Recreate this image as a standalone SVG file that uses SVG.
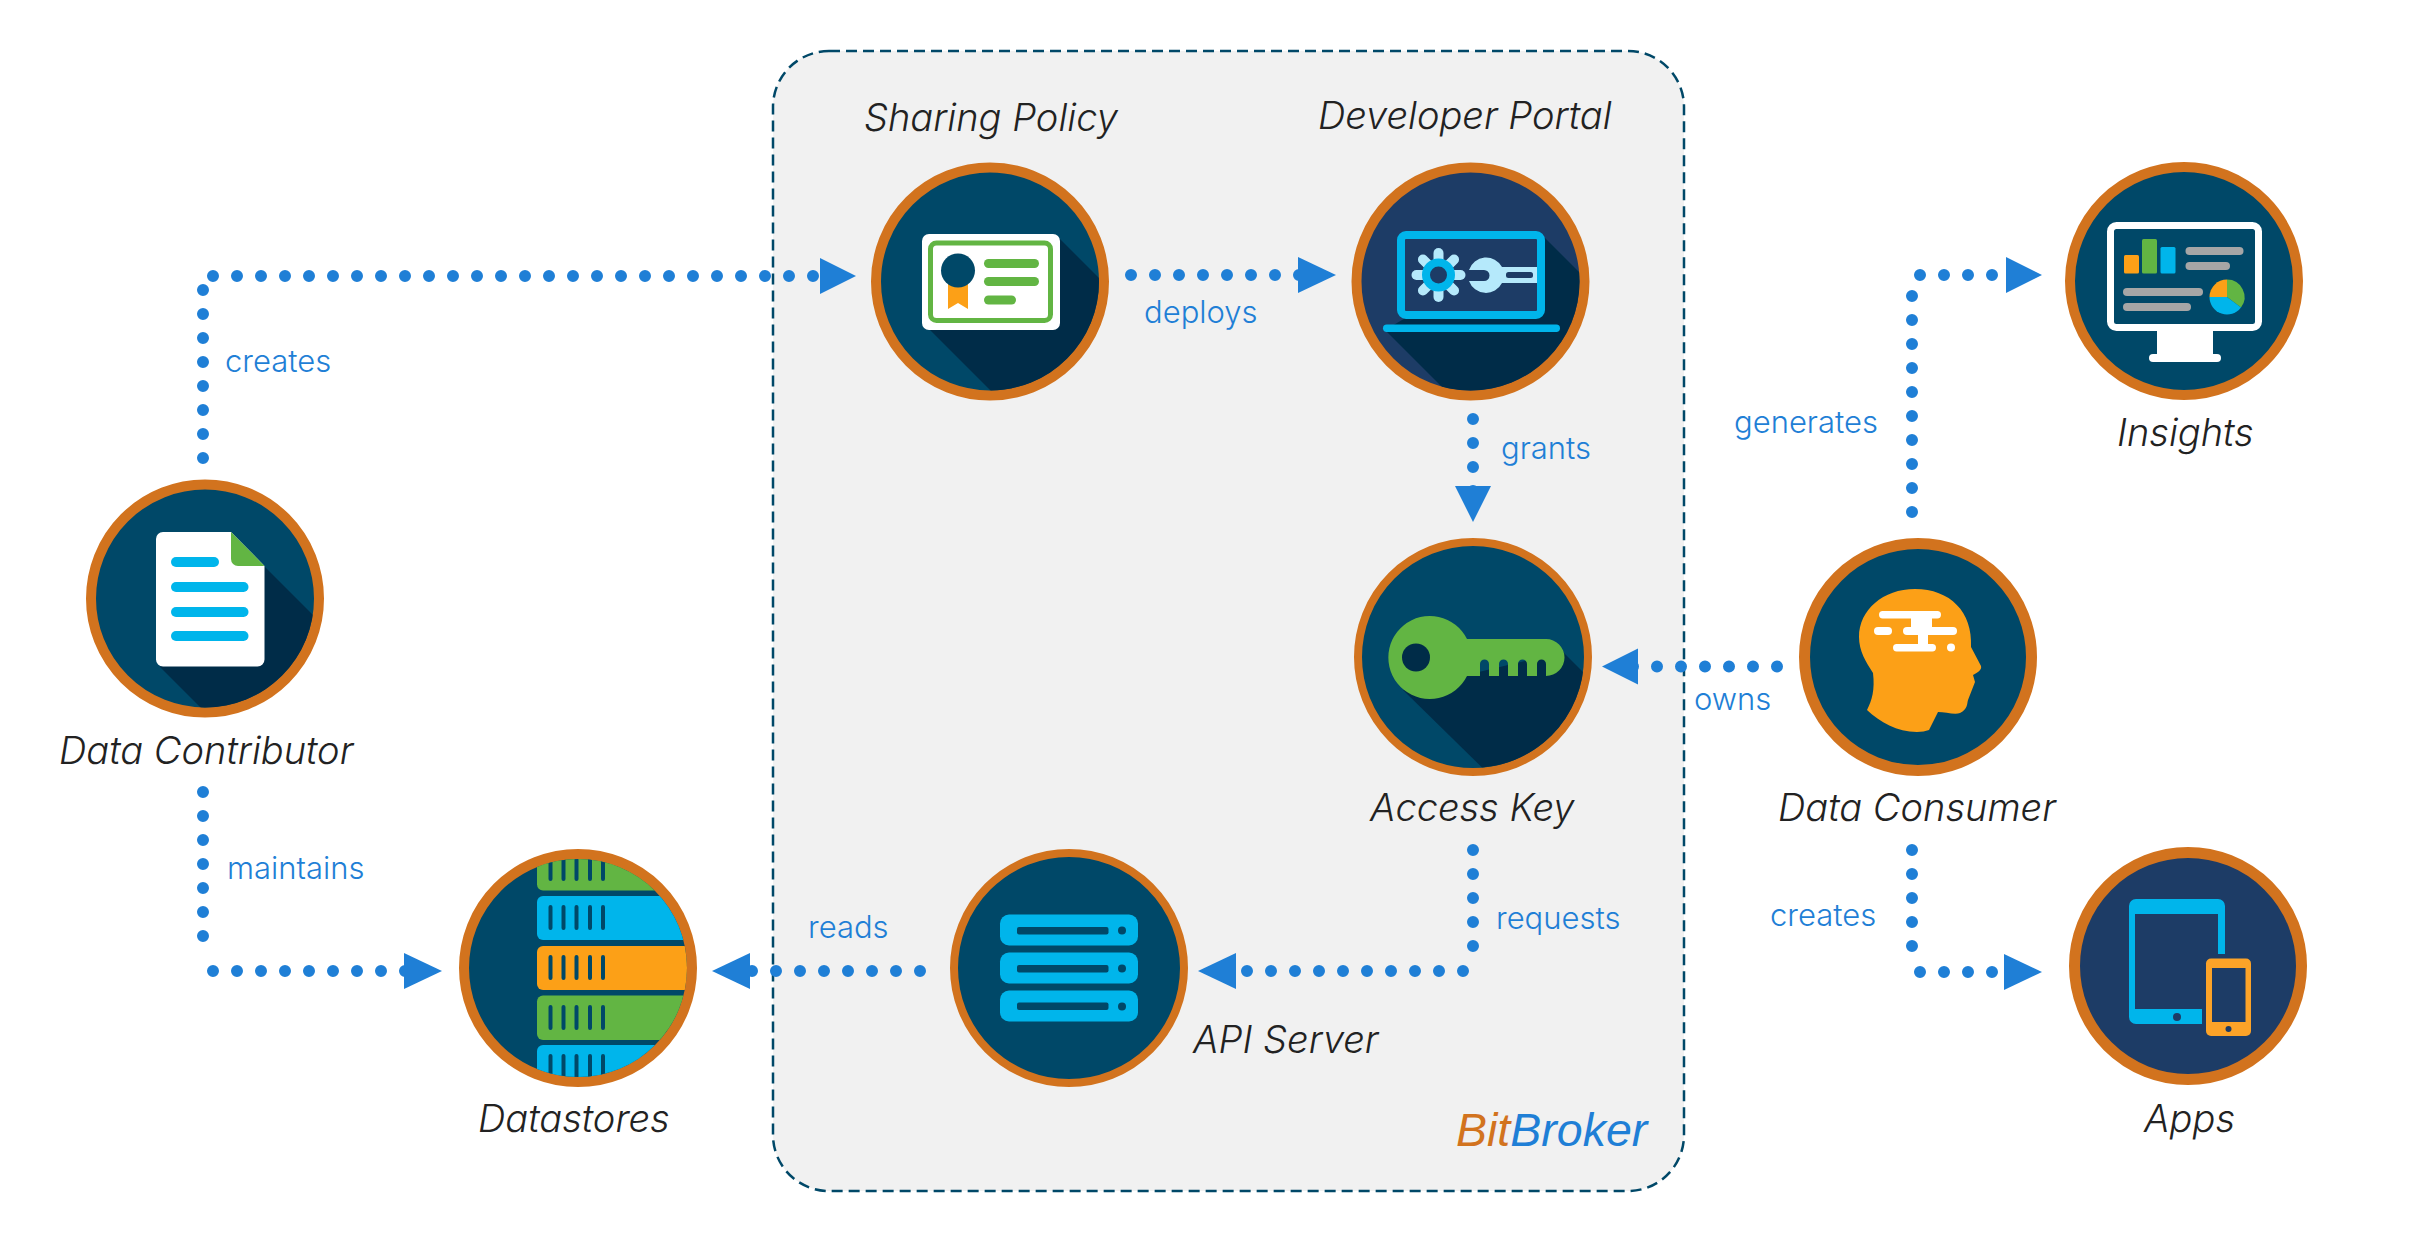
<svg xmlns="http://www.w3.org/2000/svg" width="2418" height="1243" viewBox="0 0 2418 1243">
<defs>
<style>
.ring{stroke:#d2731e;stroke-width:10}
.navy{fill:#004868}.blue{fill:#1d3c66}
.sh{fill:#002c48}
.lbl{font-family:"Inter","Liberation Sans",sans-serif;font-style:italic;font-weight:300;font-size:38px;fill:#222}
.edge{font-family:"Inter","Liberation Sans",sans-serif;font-weight:300;font-size:31px;fill:#1f7fd6}
.dot{fill:none;stroke:#1f7fd6;stroke-width:12;stroke-linecap:round;stroke-dasharray:0 24}
.arr{fill:#1f7fd6}
.g{fill:#62b543}.c{fill:#00b5eb}.o{fill:#fca017}.w{fill:#fff}.gr{fill:#a6a6a6}.lb{fill:#b5e9fb}
</style>
<clipPath id="cDC"><circle cx="205" cy="598.5" r="109"/></clipPath>
<clipPath id="cSP"><circle cx="990" cy="281.5" r="109"/></clipPath>
<clipPath id="cDP"><circle cx="1470.5" cy="281.5" r="109"/></clipPath>
<clipPath id="cAK"><circle cx="1473" cy="657" r="111"/></clipPath>
<clipPath id="cDS"><circle cx="578" cy="968" r="109"/></clipPath>
</defs>
<rect width="2418" height="1243" fill="#fff"/>
<rect id="bitbroker-boundary" x="773" y="51" width="911" height="1140" rx="56" fill="#f1f1f1" stroke="#004868" stroke-width="2.5" stroke-dasharray="11 6"/>

<g id="connectors">
<path class="dot" d="M203 290V460M213 276H830"/>
<path class="arr" d="M820 258l36 18-36 18z"/>
<path class="dot" d="M1131 275H1310"/>
<path class="arr" d="M1298 257l38 18-38 18z"/>
<path class="dot" d="M1473 419V495"/>
<path class="arr" d="M1455 486h36l-18 36z"/>
<path class="dot" d="M1777 666.500H1630"/>
<path class="arr" d="M1602 666.500l36-18v36z"/>
<path class="dot" d="M1473 850V958M1463 971H1225"/>
<path class="arr" d="M1198 971l38-18v36z"/>
<path class="dot" d="M920 971H735"/>
<path class="arr" d="M712 971l38-18v36z"/>
<path class="dot" d="M203 792V960M213 971H420"/>
<path class="arr" d="M442 971l-38-18v36z"/>
<path class="dot" d="M1912 512V290M1920 275H2015"/>
<path class="arr" d="M2006 257l36 18-36 18z"/>
<path class="dot" d="M1912 850V960M1920 972H2015"/>
<path class="arr" d="M2004 954l38 18-38 18z"/>
<text class="edge" x="225" y="372">creates</text>
<text class="edge" x="1144" y="323">deploys</text>
<text class="edge" x="1501" y="459">grants</text>
<text class="edge" x="1734" y="433">generates</text>
<text class="edge" x="1694" y="710">owns</text>
<text class="edge" x="227" y="879">maintains</text>
<text class="edge" x="808" y="938">reads</text>
<text class="edge" x="1496" y="929">requests</text>
<text class="edge" x="1770" y="926">creates</text>
</g>

<g id="data-contributor">
<circle class="navy ring" cx="205" cy="598.5" r="114"/>
<path class="sh" clip-path="url(#cDC)" d="M264 566L334 636V732H225L160 667z"/>
<path class="w" d="M163 532H231L264.500 566V659.500a7 7 0 0 1-7 7H163a7 7 0 0 1-7-7V539a7 7 0 0 1 7-7z"/>
<path class="g" d="M231 532l33.500 34h-26.500a7 7 0 0 1-7-7z"/>
<rect class="c" x="171" y="557" width="48" height="10" rx="5"/>
<rect class="c" x="171" y="582" width="77.500" height="10" rx="5"/>
<rect class="c" x="171" y="607" width="77.500" height="10" rx="5"/>
<rect class="c" x="171" y="631" width="77.500" height="10" rx="5"/>
<text class="lbl" x="59" y="764">Data Contributor</text>
</g>

<g id="sharing-policy">
<circle class="navy ring" cx="990" cy="281.500" r="114"/>
<path class="sh" clip-path="url(#cSP)" d="M1060 239L1120 299V400H1000L927 327z"/>
<rect class="w" x="922" y="234" width="138" height="96" rx="7"/>
<rect x="930.500" y="243" width="120" height="77.500" rx="6" fill="none" stroke="#62b543" stroke-width="5"/>
<path class="o" d="M948 280h20v29l-10-6-10 6z"/>
<circle class="navy" cx="958" cy="270.500" r="17"/>
<rect class="g" x="984" y="259" width="55" height="9" rx="4.500"/>
<rect class="g" x="984" y="277" width="55" height="9" rx="4.500"/>
<rect class="g" x="984" y="295.500" width="32" height="9" rx="4.500"/>
<text class="lbl" x="864" y="131">Sharing Policy</text>
</g>

<g id="developer-portal">
<circle class="blue ring" cx="1470.500" cy="281.500" r="114"/>
<path class="sh" clip-path="url(#cDP)" d="M1544 237L1610 303V400H1455L1385 330z"/>
<rect x="1401" y="235" width="140" height="80" rx="5" fill="#1d3c66" stroke="#00b5eb" stroke-width="8"/>
<rect class="c" x="1383" y="324.500" width="177" height="7.500" rx="3.700"/>
<g class="lb" transform="translate(1438.500 275)">
<rect x="-5" y="-27" width="10" height="54" rx="5"/>
<rect x="-5" y="-27" width="10" height="54" rx="5" transform="rotate(45)"/>
<rect x="-5" y="-27" width="10" height="54" rx="5" transform="rotate(90)"/>
<rect x="-5" y="-27" width="10" height="54" rx="5" transform="rotate(135)"/>
</g>
<circle cx="1438.500" cy="275" r="12.500" fill="#1d3c66" stroke="#00b5eb" stroke-width="8"/>
<path class="lb" d="M1469 270A18 18 0 0 1 1502 267H1537V283H1502A18 18 0 0 1 1469 281H1484A5.500 5.500 0 0 0 1484 270z"/>
<rect x="1506" y="272" width="27" height="6" rx="2.500" fill="#1d3c66"/>
<text class="lbl" x="1318" y="129">Developer Portal</text>
</g>

<g id="insights">
<circle class="navy ring" cx="2184" cy="281" r="114"/>
<rect x="2110.500" y="225.500" width="148" height="102" rx="6" fill="#004868" stroke="#fff" stroke-width="7"/>
<path class="w" d="M2157 330h56v25h-56z"/>
<rect class="w" x="2149" y="354" width="72" height="8" rx="4"/>
<rect class="o" x="2124" y="255" width="15" height="18.500" rx="1.500"/>
<rect class="g" x="2142" y="239" width="15" height="34.500" rx="1.500"/>
<rect class="c" x="2160.500" y="247" width="15" height="26.500" rx="1.500"/>
<rect class="gr" x="2185.500" y="247" width="58" height="8" rx="4"/>
<rect class="gr" x="2185.500" y="262" width="44.500" height="8" rx="4"/>
<rect class="gr" x="2123" y="288" width="80" height="8" rx="4"/>
<rect class="gr" x="2123" y="303" width="68" height="8" rx="4"/>
<path class="o" d="M2227 297V279.500A17.500 17.500 0 0 0 2209.500 297z"/>
<path class="g" d="M2227 297V279.500A17.500 17.500 0 0 1 2241 307.500z"/>
<path class="c" d="M2227 297L2241 307.500A17.500 17.500 0 0 1 2209.500 297z"/>
<text class="lbl" x="2117" y="446">Insights</text>
</g>

<g id="access-key">
<circle class="navy ring" cx="1473" cy="657" r="115" style="stroke-width:8"/>
<path class="sh" clip-path="url(#cAK)" d="M1563 652L1620 709V790H1505L1403 690z"/>
<path class="g" d="M1467 639h79a18.500 18.500 0 0 1 0 37v-12a4.500 4.500 0 0 0-9 0v12h-10v-12a4.500 4.500 0 0 0-9 0v12h-10v-12a4.500 4.500 0 0 0-9 0v12h-10v-12a4.500 4.500 0 0 0-9 0v12h-13a41.500 41.500 0 1 1 0-37z"/>
<circle class="sh" cx="1416" cy="657.500" r="14"/>
<text class="lbl" x="1370" y="821">Access Key</text>
</g>

<g id="data-consumer">
<circle class="navy ring" cx="1918" cy="657" r="113.500" style="stroke-width:11"/>
<path class="o" d="M1915 589C1883 589 1859 610 1859 637C1859 651 1866 662 1873 673C1875 690 1872 700 1867 710C1880 722 1897 732 1917 732Q1924 732 1929 730L1938 712C1945 712 1955 715 1960 713C1968 709 1967 703 1968 700L1975 682L1973 675C1978 672 1982 670 1981 666L1971 647C1973 612 1950 589 1915 589z"/>
<g class="w">
<rect x="1879" y="611" width="62" height="7.500" rx="3.700"/>
<rect x="1874" y="627" width="18" height="8" rx="4"/>
<rect x="1903" y="627" width="54" height="8" rx="4"/>
<rect x="1893" y="644" width="43" height="7.500" rx="3.700"/>
<path d="M1911 618h21v9h-21zM1918 635h10v9h-10z"/>
<circle cx="1951" cy="647.500" r="4"/>
</g>
<text class="lbl" x="1778" y="821">Data Consumer</text>
</g>

<g id="apps">
<circle class="blue ring" cx="2188" cy="966" r="113.500" style="stroke-width:11"/>
<path class="c" d="M2136 899h82a7 7 0 0 1 7 7v48h-7V914h-83v95h67v15h-66a7 7 0 0 1-7-7V906a7 7 0 0 1 7-7z"/>
<circle cx="2177" cy="1017" r="4" fill="#1d3c66"/>
<rect x="2206" y="958.500" width="45" height="77.500" rx="5" fill="#fca328"/>
<rect x="2212" y="968" width="33.500" height="54" fill="#1d3c66"/>
<circle cx="2228.500" cy="1029" r="3" fill="#1d3c66"/>
<text class="lbl" x="2144" y="1132">Apps</text>
</g>

<g id="api-server">
<circle class="navy ring" cx="1069" cy="968" r="115" style="stroke-width:8"/>
<g class="c">
<rect x="1000" y="914.500" width="138" height="31" rx="9"/>
<rect x="1000" y="952.500" width="138" height="31" rx="9"/>
<rect x="1000" y="990.500" width="138" height="31" rx="9"/>
</g>
<g class="navy">
<rect x="1017" y="927" width="91.500" height="7.500" rx="2"/><circle cx="1122" cy="930.500" r="4"/>
<rect x="1017" y="965" width="91.500" height="7.500" rx="2"/><circle cx="1122" cy="968.500" r="4"/>
<rect x="1017" y="1002.500" width="91.500" height="7.500" rx="2"/><circle cx="1122" cy="1006.500" r="4"/>
</g>
<text class="lbl" x="1193" y="1053">API Server</text>
</g>

<g id="datastores">
<circle class="navy ring" cx="578" cy="968" r="114"/>
<g clip-path="url(#cDS)">
<rect class="g" x="537" y="840" width="220" height="50.500" rx="6"/>
<rect class="c" x="537" y="896" width="220" height="44" rx="6"/>
<rect class="o" x="537" y="946" width="220" height="44" rx="6"/>
<rect class="g" x="537" y="995.500" width="220" height="44.500" rx="6"/>
<rect class="c" x="537" y="1045" width="220" height="50" rx="6"/>
<g fill="none" stroke="#004868" stroke-width="4" stroke-linecap="round">
<path d="M550.500 860v19M563.500 860v19M576.500 860v19M590 860v19M603 860v19"/>
<path d="M550.500 907v21M563.500 907v21M576.500 907v21M590 907v21M603 907v21"/>
<path d="M550.500 957v21M563.500 957v21M576.500 957v21M590 957v21M603 957v21"/>
<path d="M550.500 1007v21M563.500 1007v21M576.500 1007v21M590 1007v21M603 1007v21"/>
<path d="M550.500 1056v21M563.500 1056v21M576.500 1056v21M590 1056v21M603 1056v21"/>
</g>
</g>
<text class="lbl" x="478" y="1132">Datastores</text>
</g>

<text id="brand" x="1456" y="1146" font-family="'Liberation Sans',sans-serif" font-style="italic" font-size="46.500"><tspan fill="#d2731e">Bit</tspan><tspan fill="#1f7fd6">Broker</tspan></text>
</svg>
